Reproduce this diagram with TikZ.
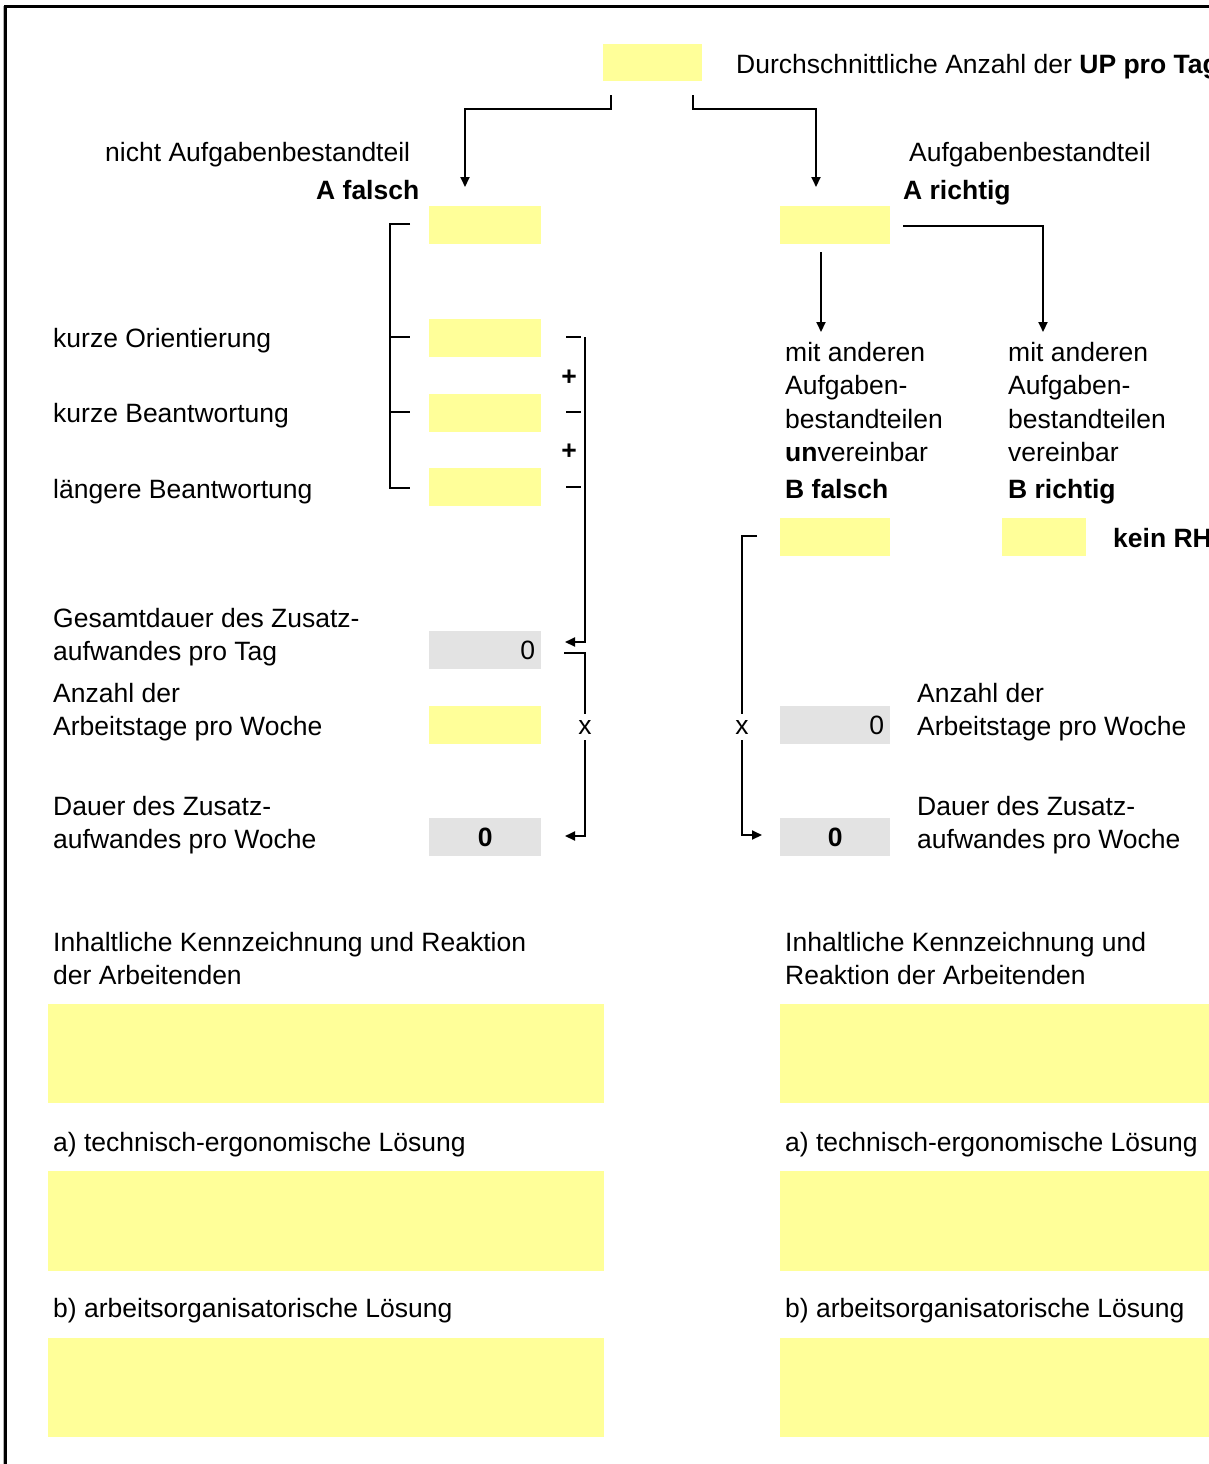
\documentclass[tikz,border=0pt]{standalone}
\usepackage{fontspec}
\setmainfont{Liberation Sans}
\usetikzlibrary{arrows.meta}
\definecolor{yfill}{RGB}{255,255,153}
\definecolor{gfill}{RGB}{227,227,227}
\begin{document}
\begin{tikzpicture}[x=1pt,y=-1pt,
  txtfont/.style={font=\fontsize{26.5}{33}\selectfont},
  lbl/.style={txtfont,inner sep=0pt,anchor=base west},
  ybox/.style={fill=yfill,draw=none,inner sep=0pt,anchor=north west},
  gbox/.style={txtfont,fill=gfill,draw=none,inner ysep=0pt,inner xsep=6pt,anchor=north west,minimum height=38pt},
  ln/.style={line width=2pt},
  arr/.style={line width=2pt,-{Triangle[length=10pt,width=9pt]}},
  sym/.style={txtfont,inner sep=6pt,anchor=center}]
\useasboundingbox (0,0) rectangle (1208,1464);
% frame
\draw[gray!60,line width=1.2pt] (3.2,6) -- (3.2,1464);
\draw[line width=3pt] (5.5,1464) -- (5.5,6.5) -- (1210,6.5);

% top
\node[ybox,minimum width=99pt,minimum height=37pt] (top) at (603,44) {};
\node[lbl] (toptxt) at (736,74) {Durchschnittliche Anzahl der \textbf{UP pro Tag}};
\coordinate (tl) at (611,95);
\coordinate (tr) at (693,95);
\coordinate (aL) at (465,187);
\coordinate (aR) at (816,187);
\draw[arr] (tl) |- (aL |- 0,109) -- (aL);
\draw[arr] (tr) |- (aR |- 0,109) -- (aR);

\node[lbl] (nAuf) at (105,161) {nicht Aufgabenbestandteil};
\node[lbl] (Af) at (316,199) {\textbf{A falsch}};
\node[lbl] (Auf) at (909,161) {Aufgabenbestandteil};
\node[lbl] (Ar) at (903,199) {\textbf{A richtig}};

% left column boxes
\node[ybox,minimum width=112pt,minimum height=38pt] (bAf) at (429,206) {};
\node[ybox,minimum width=112pt,minimum height=38pt] (bK1) at (429,319) {};
\node[ybox,minimum width=112pt,minimum height=38pt] (bK2) at (429,394) {};
\node[ybox,minimum width=112pt,minimum height=38pt] (bK3) at (429,468) {};
\node[gbox,text width=100pt,align=right] (gT) at (429,631) {0};
\node[ybox,minimum width=112pt,minimum height=38pt] (bTage) at (429,706) {};
\node[gbox,text width=100pt,align=center] (gW) at (429,818) {\textbf{0}};

\node[lbl] (k1) at (53,347) {kurze Orientierung};
\node[lbl] (k2) at (53,422) {kurze Beantwortung};
\node[lbl] (k3) at (53,498) {längere Beantwortung};
\node[lbl] (g1) at (53,627) {Gesamtdauer des Zusatz-};
\node[lbl] (g2) at (53,660) {aufwandes pro Tag};
\node[lbl] (t1) at (53,702) {Anzahl der};
\node[lbl] (t2) at (53,735) {Arbeitstage pro Woche};
\node[lbl] (d1) at (53,815) {Dauer des Zusatz-};
\node[lbl] (d2) at (53,848) {aufwandes pro Woche};

% left bracket
\draw[ln] (410,224) -- (390,224) -- (390,488) -- (410,488);
\draw[ln] (390,337) -- (410,337);
\draw[ln] (390,412) -- (410,412);

% plus bracket
\draw[ln] (566,337) -- (581,337);
\draw[ln] (566,412) -- (581,412);
\draw[ln] (566,487) -- (581,487);
\node[sym] (p1) at (569,378) {\textbf{+}};
\node[sym] (p2) at (569,452) {\textbf{+}};
\coordinate (sumTop) at (585,337);
\coordinate (sumEnd) at (565,642);
\draw[arr] (sumTop) |- (sumEnd);

% multiplication left
\node[sym] (xL) at (585,727) {x};
\coordinate (mL) at (564,653);
\coordinate (mLe) at (565,836);
\draw[ln] (mL) -| (xL.north);
\draw[arr] (xL.south) |- (mLe);

% right side
\node[ybox,minimum width=110pt,minimum height=38pt] (bAr) at (780,206) {};
\coordinate (r1s) at (821,252);
\coordinate (r1e) at (821,332);
\draw[arr] (r1s) -- (r1e);
\coordinate (r2s) at (903,226);
\coordinate (r2e) at (1043,332);
\draw[arr] (r2s) -| (r2e);

\node[lbl] (u1) at (785,361) {mit anderen};
\node[lbl] (u2) at (785,394) {Aufgaben-};
\node[lbl] (u3) at (785,428) {bestandteilen};
\node[lbl] (u4) at (785,461) {\textbf{un}vereinbar};
\node[lbl] (u5) at (785,498) {\textbf{B falsch}};
\node[lbl] (v1) at (1008,361) {mit anderen};
\node[lbl] (v2) at (1008,394) {Aufgaben-};
\node[lbl] (v3) at (1008,428) {bestandteilen};
\node[lbl] (v4) at (1008,461) {vereinbar};
\node[lbl] (v5) at (1008,498) {\textbf{B richtig}};

\node[ybox,minimum width=110pt,minimum height=38pt] (bBf) at (780,518) {};
\node[ybox,minimum width=84pt,minimum height=38pt] (bBr) at (1002,518) {};
\node[lbl] (kein) at (1113,547) {\textbf{kein RH}};

\node[gbox,text width=98pt,align=right] (gTr) at (780,706) {0};
\node[gbox,text width=98pt,align=center] (gWr) at (780,818) {\textbf{0}};
\node[lbl] (rt1) at (917,702) {Anzahl der};
\node[lbl] (rt2) at (917,735) {Arbeitstage pro Woche};
\node[lbl] (rd1) at (917,815) {Dauer des Zusatz-};
\node[lbl] (rd2) at (917,848) {aufwandes pro Woche};

\node[sym] (xR) at (742,727) {x};
\coordinate (mR) at (757,536);
\coordinate (mRe) at (762,835);
\draw[ln] (mR) -| (xR.north);
\draw[arr] (xR.south) |- (mRe);

% bottom left
\node[lbl] (iL1) at (53,951) {Inhaltliche Kennzeichnung und Reaktion};
\node[lbl] (iL2) at (53,984) {der Arbeitenden};
\node[ybox,minimum width=556pt,minimum height=99pt] (L1) at (48,1004) {};
\node[lbl] (aL1) at (53,1151) {a) technisch-ergonomische Lösung};
\node[ybox,minimum width=556pt,minimum height=100pt] (L2) at (48,1171) {};
\node[lbl] (bL1) at (53,1317) {b) arbeitsorganisatorische Lösung};
\node[ybox,minimum width=556pt,minimum height=99pt] (L3) at (48,1338) {};

% bottom right
\node[lbl] (iR1) at (785,951) {Inhaltliche Kennzeichnung und};
\node[lbl] (iR2) at (785,984) {Reaktion der Arbeitenden};
\node[ybox,minimum width=430pt,minimum height=99pt] (R1) at (780,1004) {};
\node[lbl] (aR1) at (785,1151) {a) technisch-ergonomische Lösung};
\node[ybox,minimum width=430pt,minimum height=100pt] (R2) at (780,1171) {};
\node[lbl] (bR1) at (785,1317) {b) arbeitsorganisatorische Lösung};
\node[ybox,minimum width=430pt,minimum height=99pt] (R3) at (780,1338) {};
\end{tikzpicture}
\end{document}
